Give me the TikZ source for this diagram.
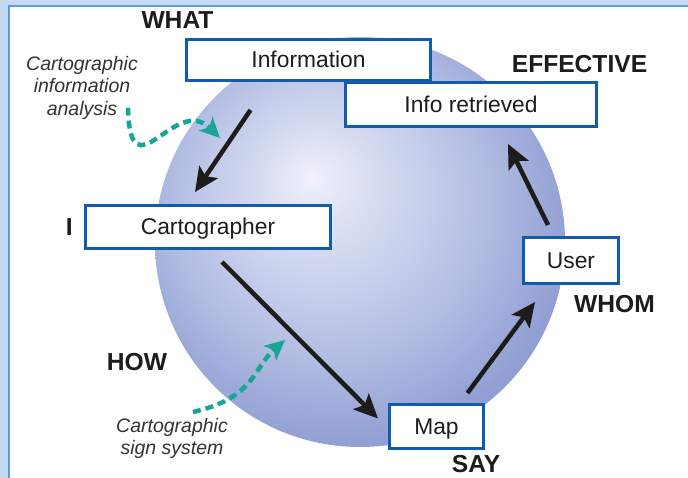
\documentclass[tikz,border=0pt]{standalone}
\usepackage{fontspec}
\setmainfont{Liberation Sans}
\usetikzlibrary{arrows.meta,positioning,calc}
\definecolor{framefill}{RGB}{196,218,241}
\definecolor{frameline}{RGB}{94,154,222}
\definecolor{boxblue}{RGB}{18,92,172}
\definecolor{hintteal}{RGB}{22,166,150}
\definecolor{inkblack}{RGB}{30,27,27}
\definecolor{globe0}{RGB}{240,242,251}
\definecolor{globe1}{RGB}{218,223,242}
\definecolor{globe2}{RGB}{178,189,227}
\definecolor{globe3}{RGB}{146,160,212}
\definecolor{globe4}{RGB}{132,147,204}
\pgfdeclareradialshading{globe}{\pgfpoint{-6bp}{8bp}}{color(0bp)=(globe0); color(6bp)=(globe1); color(19bp)=(globe2); color(28bp)=(globe3); color(36bp)=(globe4); color(50bp)=(globe4)}
\tikzset{
box/.style = {draw=boxblue, fill=white, rectangle, line width=3pt, inner sep=0pt, align=center, text=inkblack, font=\fontsize{22.8}{27}\selectfont, text height=16pt, text depth=0pt},
tag/.style = {inner sep=0pt, text=inkblack, font=\fontsize{24.6}{29}\selectfont\bfseries},
note/.style = {inner sep=0pt, align=center, text=inkblack!90, font=\fontsize{19.5}{22.5}\selectfont\itshape},
flow/.style = {->, draw=inkblack, line width=4.5pt},
hint/.style = {-{Stealth[length=20pt,width=19pt,inset=5pt]}, draw=hintteal, line width=4.5pt, dash pattern=on 8pt off 5pt},
}
\begin{document}
\begin{tikzpicture}[x=1pt, y=-1pt, >={Stealth[length=24pt,width=22pt,inset=5pt]}]
    % frame
    \useasboundingbox (0,0) rectangle (688,478);
    \fill[white] (0,0) rectangle (688,478);
    \fill[framefill] (0,0) rectangle (688,5);
    \fill[framefill] (0,0) rectangle (8,478);
    \fill[frameline] (8,5) rectangle (688,7);
    \fill[frameline] (8,5) rectangle (10,478);

    % globe
    \shade[shading=globe] (360,242) circle[radius=205];

    \node [box, minimum width=244pt, minimum height=41pt] (info) at (308.5,60) {Information};
    \node [box, minimum width=251pt, minimum height=44pt] (retr) at (471,104.5) {Info retrieved};
    \node [box, minimum width=245pt, minimum height=43pt] (carto) at (208,227) {Cartographer};
    \node [box, minimum width=95pt, minimum height=46pt] (user) at (571,260.5) {User};
    \node [box, minimum width=94pt, minimum height=44pt] (map) at (436.5,426.5) {Map};

    \node [tag] (what) at (177.5,20.5) {WHAT};
    \node [tag] (effective) at (579.5,64) {EFFECTIVE};
    \node [tag, left=11pt of carto] (i) {I};
    \node [tag] (how) at (137,362.5) {HOW};
    \node [tag] (whom) at (614.5,304) {WHOM};
    \node [tag] (say) at (476,464.5) {SAY};

    \node [note, anchor=north] (analysis) at (82,56) {Cartographic\\information\\analysis};
    \node [note, anchor=north] (signs) at (172,418) {Cartographic\\sign system};

    \draw [flow] ($(info.south)+(-58,28)$) -- ($(carto.north)+(-13,-12)$);
    \draw [flow] ($(carto.south)+(14,12)$) -- ($(map.west)+(-10,-8)$);
    \draw [flow] ($(map.north)+(31,-10)$) -- ($(user.south)+(-36,17)$);
    \draw [flow] ($(user.north)+(-23,-11)$) -- ($(retr.south)+(37,16)$);

    \coordinate (aimA) at (220,138);
    \coordinate (aimB) at (285,340);
    \draw [hint] ($(analysis.south east)+(-10,-12)$) .. controls +(2,90) and +(-45,-45) .. (aimA);
    \draw [hint] ($(signs.north)+(21,-6)$) .. controls +(62,-14) and +(-32,28) .. (aimB);
\end{tikzpicture}
\end{document}
